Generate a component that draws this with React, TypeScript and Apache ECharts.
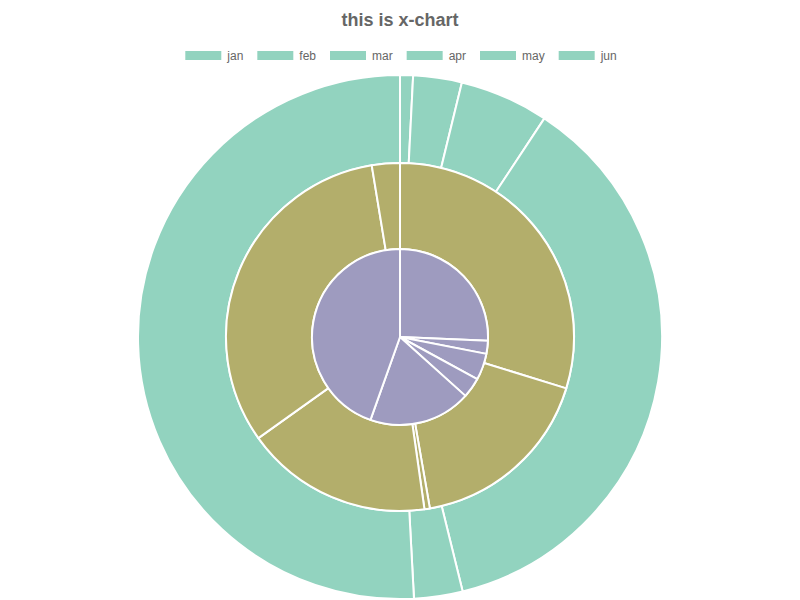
import React, { useEffect, useRef } from "react";
import * as echarts from "echarts";

const months = ["jan", "feb", "mar", "apr", "may", "jun"];
const outerValues = [8, 30, 55, 369, 30, 509];
const middleValues = [298, 175, 5, 174, 323, 26];
const innerValues = [257, 24, 49, 37, 188, 446];

const TEAL = "#92d3bf";
const OLIVE = "#b3ae6b";
const PURPLE = "#9e9bbf";

function ring(values: number[], color: string, radius: [number, number]) {
  return {
    type: "pie",
    center: [400, 337],
    radius,
    startAngle: 90,
    clockwise: true,
    silent: true,
    label: { show: false },
    labelLine: { show: false },
    itemStyle: { color, borderColor: "#ffffff", borderWidth: 2 },
    emphasis: { disabled: true },
    data: months.map((m, i) => ({ name: m, value: values[i] })),
  };
}

export default function App() {
  const ref = useRef<HTMLDivElement>(null);
  useEffect(() => {
    if (!ref.current) return;
    const chart = echarts.init(ref.current, undefined, { renderer: "svg" });
    chart.setOption({
      animation: false,
      title: {
        text: "this is x-chart",
        left: "center",
        top: 6,
        textStyle: {
          fontFamily: "Liberation Sans, Arial, sans-serif",
          fontSize: 18,
          fontWeight: "bold",
          color: "#666666",
        },
      },
      legend: {
        data: months,
        top: 44,
        left: "center",
        itemWidth: 38,
        itemHeight: 11,
        itemGap: 12,
        icon: "rect",
        textStyle: {
          fontFamily: "Liberation Sans, Arial, sans-serif",
          fontSize: 12,
          color: "#666666",
        },
      },
      series: [
        ring(outerValues, TEAL, [174, 262]),
        ring(middleValues, OLIVE, [88, 174]),
        ring(innerValues, PURPLE, [0, 88]),
      ],
    });
    return () => chart.dispose();
  }, []);
  return (
    <div
      ref={ref}
      style={{ position: "absolute", left: 0, top: 0, width: 800, height: 600 }}
    />
  );
}
